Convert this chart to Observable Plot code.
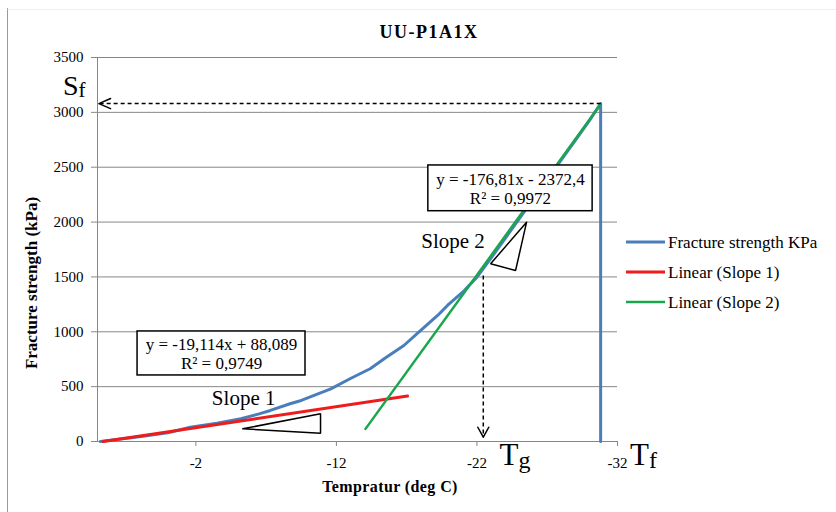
<!DOCTYPE html>
<html><head><meta charset="utf-8">
<script src="https://cdn.jsdelivr.net/npm/d3@7"></script>
<script src="https://cdn.jsdelivr.net/npm/@observablehq/plot@0.6"></script>
<style>body{margin:0;background:#fff}#chart{width:836px;height:512px}#chart svg text{font-family:'Liberation Serif','Times New Roman',serif}</style>
</head><body><div id="chart"></div>
<script>
// ---- data ----
const tempBlue = [4.8, 3.5, 1.9, 0, -1.6, -3.5, -5.2, -6.5, -7.3, -8.7, -9.5, -11.6, -13, -14.4, -15.5, -16.8, -18, -19.2, -19.9, -21.1, -22, -23, -24, -25, -26, -27, -28, -29, -30, -30.8, -30.8];
const strengthBlue = [0, 20, 46, 80, 130, 167, 207, 252, 283, 344, 374, 480, 574, 663, 763, 875, 1012, 1149, 1240, 1376, 1498, 1672, 1850, 2030, 2208, 2388, 2566, 2745, 2925, 3081, 0];
const slope1X = [4.6, -17.06];
const slope1Y = [0, 414];
const slope2X = [-14.07, -30.8];
const slope2Y = [115, 3073];
const xTicks = [-2, -12, -22, -32];
const yTicks = [0, 500, 1000, 1500, 2000, 2500, 3000, 3500];
const seriesNames = ["Fracture strength KPa", "Linear (Slope 1)", "Linear (Slope 2)"];
const seriesColors = ["#4a7ebb", "#ee1c1c", "#1aa64e"];
const eqTexts = ["y = -19,114x + 88,089\nR² = 0,9749", "y = -176,81x - 2372,4\nR² = 0,9972"];
const eqBoxX1 = [2.15, -18.54], eqBoxX2 = [-9.8, -30.23];
const eqBoxY1 = [602, 2099], eqBoxY2 = [1003, 2516];
const slopeLabels = ["Slope 1", "Slope 2"];
const slopeLabelX = [-5.4, -20.3], slopeLabelY = [392, 1823];
const tri1X = [-5.34, -10.87, -10.87, -5.34], tri1Y = [116, 252, 76, 116];
const tri2X = [-25.53, -22.97, -24.75, -25.53], tri2Y = [1999, 1620, 1559, 1999];
// dashed guide S_f (horizontal) and T_g (vertical), with open arrow heads
const sfValue = 3080, sfFromX = -30.8, sfToX = 4.9;
const sfHeadX = [4.07, 4.9, 4.07], sfHeadY = [3126, 3080, 3034];
const tgValue = -22.45, tgFromY = 1513, tgToY = 39;
const tgHeadX = [-22.06, -22.45, -22.84], tgHeadY = [130, 39, 130];
const title = "UU-P1A1X";
const xTitle = "Tempratur (deg C)";
const yTitle = "Fracture strength (kPa)";

// ---- tables ----
const blue = tempBlue.map((t, i) => ({t, s: strengthBlue[i]}));
const red = slope1X.map((t, i) => ({t, s: slope1Y[i]}));
const green = slope2X.map((t, i) => ({t, s: slope2Y[i]}));
const boxes = eqTexts.map((txt, i) => ({txt, x1: eqBoxX1[i], x2: eqBoxX2[i], y1: eqBoxY1[i], y2: eqBoxY2[i]}));
const slopes = slopeLabels.map((l, i) => ({l, x: slopeLabelX[i], y: slopeLabelY[i]}));
const tris = [...tri1X.map((x, i) => ({id: 1, x, y: tri1Y[i]})), ...tri2X.map((x, i) => ({id: 2, x, y: tri2Y[i]}))];
const heads = [...sfHeadX.map((x, i) => ({id: 1, x, y: sfHeadY[i]})), ...tgHeadX.map((x, i) => ({id: 2, x, y: tgHeadY[i]}))];

const gray = "#878787";
const serif = "'Liberation Serif', 'Times New Roman', serif";

const chart = Plot.plot({
  width: 836, height: 512,
  marginLeft: 97, marginRight: 219, marginTop: 57, marginBottom: 71,
  style: {fontFamily: serif, fontSize: "15px", background: "#fff", color: "#000", overflow: "visible"},
  x: {domain: [5, -32]},
  y: {domain: [0, 3500]},
  marks: [
    Plot.gridY(yTicks, {stroke: gray, strokeOpacity: 1, strokeWidth: 1}),
    Plot.axisY(yTicks, {tickSize: 6, tickPadding: 8, stroke: gray, fill: "#000", fontSize: 15, fontFamily: serif, label: null, tickFormat: d => String(d)}),
    Plot.axisX(xTicks, {tickSize: 5, tickPadding: 11, stroke: gray, fill: "#000", fontSize: 15, fontFamily: serif, label: null, tickFormat: d => String(d)}),
    Plot.ruleX([5], {stroke: gray}),
    Plot.ruleY([0], {stroke: gray}),
    Plot.line(blue, {x: "t", y: "s", stroke: seriesColors[0], strokeWidth: 3}),
    Plot.line(red, {x: "t", y: "s", stroke: seriesColors[1], strokeWidth: 3}),
    Plot.line(green, {x: "t", y: "s", stroke: seriesColors[2], strokeWidth: 2.5}),
    // dashed guides with open heads
    Plot.link([sfValue], {x1: sfFromX, x2: sfToX - 0.1, y1: d => d, y2: d => d, stroke: "#000", strokeWidth: 1.5, strokeDasharray: "4,3"}),
    Plot.link([tgValue], {x1: d => d, x2: d => d, y1: tgFromY, y2: tgToY + 5, stroke: "#000", strokeWidth: 1.5, strokeDasharray: "4,3"}),
    Plot.line(heads, {x: "x", y: "y", z: "id", stroke: "#000", strokeWidth: 1.5}),
    // triangles
    Plot.line(tris, {x: "x", y: "y", z: "id", stroke: "#000", strokeWidth: 1.5, strokeLinejoin: "miter"}),
    // equation boxes
    Plot.rect(boxes, {x1: "x1", x2: "x2", y1: "y1", y2: "y2", fill: "#fff", stroke: "#000", strokeWidth: 1.5}),
    Plot.text(boxes, {x: d => (d.x1 + d.x2) / 2, y: d => (d.y1 + d.y2) / 2, text: "txt", fontSize: 17, fontFamily: serif, lineHeight: 1.12, fill: "#000", textAnchor: "middle"}),
    Plot.text(slopes, {x: "x", y: "y", text: "l", fontSize: 21, fontFamily: serif, fill: "#000"})
  ]
});
document.getElementById("chart").appendChild(chart);

// ---- extra text positioned with Plot's scales ----
const svg = d3.select(chart);
const sx = chart.scale("x"), sy = chart.scale("y");
const x0 = sx.apply(5), xEnd = sx.apply(-32), y0 = sy.apply(0), yTop = sy.apply(3500);

// outer chart border
svg.append("line").attr("x1", 7.5).attr("x2", 7.5).attr("y1", 8).attr("y2", 512).attr("stroke", "#9a9a9a");
svg.append("line").attr("x1", 7.5).attr("x2", 836).attr("y1", 9.5).attr("y2", 9.5).attr("stroke", "#eeeeee");

svg.append("text").attr("x", (x0 + xEnd) / 2 + 72).attr("y", yTop - 19)
  .attr("text-anchor", "middle").attr("font-weight", "bold").attr("font-size", 18)
  .attr("letter-spacing", 1.5).attr("fill", "#000").text(title);

svg.append("text").attr("x", (x0 + xEnd) / 2 + 33).attr("y", y0 + 51)
  .attr("text-anchor", "middle").attr("font-weight", "bold").attr("font-size", 16)
  .attr("letter-spacing", 0.4).attr("fill", "#000").text(xTitle);

svg.append("text").attr("transform", `translate(${x0 - 60},${(y0 + yTop) / 2 + 34}) rotate(-90)`)
  .attr("text-anchor", "middle").attr("font-weight", "bold").attr("font-size", 17)
  .attr("fill", "#000").text(yTitle);

function sub(x, y, big, small, bigSize, smallSize, dy) {
  const t = svg.append("text").attr("x", x).attr("y", y).attr("fill", "#000")
    .attr("font-size", bigSize).attr("text-anchor", "start");
  t.append("tspan").text(big);
  t.append("tspan").attr("font-size", smallSize).attr("dy", dy).text(small);
}
sub(x0 - 34, sy.apply(sfValue) - 8, "S", "f", 28, 21, 2);
sub(sx.apply(-22) + 23, y0 + 24, "T", "g", 31, 24, 3);
sub(sx.apply(-32) + 13, y0 + 24, "T", "f", 31, 24, 3);

// legend
const lg = svg.append("g").attr("transform", `translate(${xEnd + 9},242)`);
seriesNames.forEach((name, i) => {
  const g = lg.append("g").attr("transform", `translate(0,${i * 30})`);
  g.append("line").attr("x1", 0).attr("x2", 39).attr("stroke", seriesColors[i]).attr("stroke-width", i === 2 ? 2.5 : 3);
  g.append("text").attr("x", 42).attr("y", 6).attr("font-size", 17).attr("fill", "#000")
    .attr("text-anchor", "start").text(name);
});
</script>
</body></html>
